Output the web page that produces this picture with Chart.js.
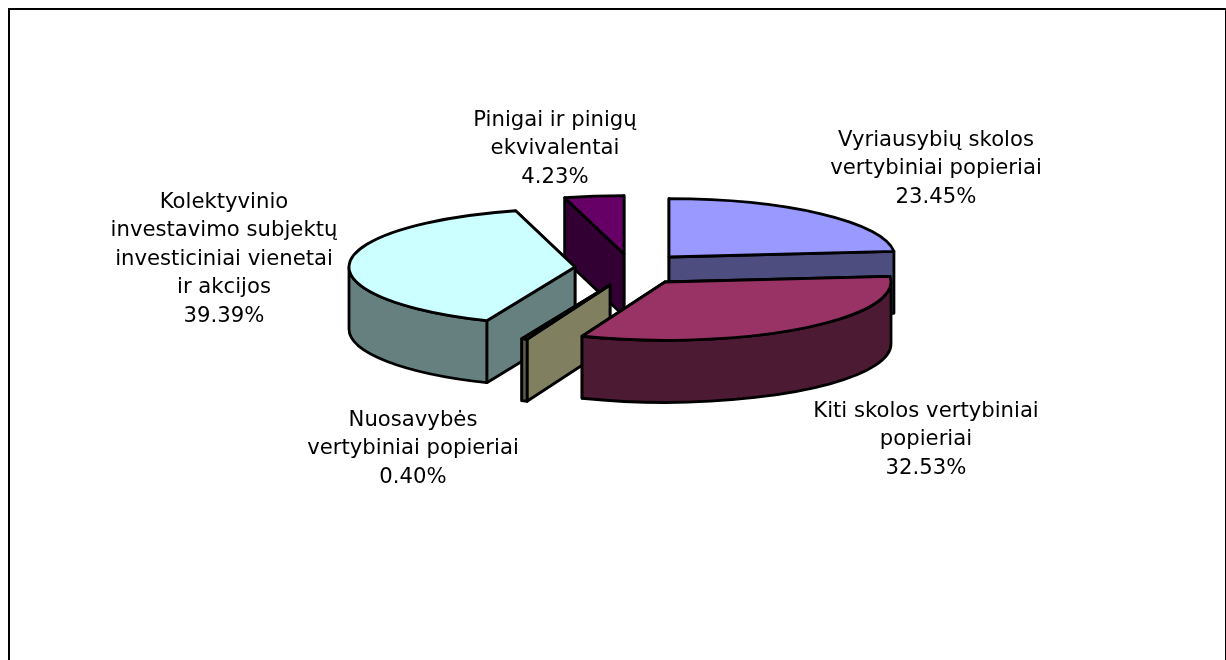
<!DOCTYPE html>
<html><head><meta charset="utf-8">
<script src="https://cdn.jsdelivr.net/npm/chart.js@4"></script>
<style>
html,body{margin:0;padding:0;background:#fff;overflow:hidden;width:1226px;height:660px}
#frame{position:absolute;left:8px;top:8px;width:1215px;height:720px;border:2px solid #000;box-sizing:content-box}
canvas{position:absolute;left:0;top:0}
</style></head><body>
<div id="frame"></div>
<canvas id="c" width="1226" height="660"></canvas>
<script>
const categories = [
  "Vyriausybių skolos vertybiniai popieriai",
  "Kiti skolos vertybiniai popieriai",
  "Nuosavybės vertybiniai popieriai",
  "Kolektyvinio investavimo subjektų investiciniai vienetai ir akcijos",
  "Pinigai ir pinigų ekvivalentai"
];
const values = [23.45, 32.53, 0.40, 39.39, 4.23];
const labelLines = [
  ["Vyriausybių skolos", "vertybiniai popieriai"],
  ["Kiti skolos vertybiniai", "popieriai"],
  ["Nuosavybės", "vertybiniai popieriai"],
  ["Kolektyvinio", "investavimo subjektų", "investiciniai vienetai", "ir akcijos"],
  ["Pinigai ir pinigų", "ekvivalentai"]
];
const topColors  = ["#9999ff", "#993366", "#808060", "#ccffff", "#660066"];
const wallColors = ["#4d4d80", "#4d1a33", "#808060", "#668080", "#330033"];
const rimColors  = ["#4d4d80", "#4d1a33", "#606048", "#668080", "#330033"];
// presentation settings
const tilt = 0.258, depth = 62, edge = 2.8;
const explode = [[56,-13],[52,12],[-3,15],[-38,-3],[11,-16]];
const drawOrder = [4,0,3,2,1];
const labelCenters = [[936,140],[926,411],[413,420],[224,202],[555,120]];
const lineStep = 28.6;

const pie3d = {
  id: 'pie3d',
  beforeDatasetsDraw(chart) {
    const ctx = chart.ctx, arcs = chart.getDatasetMeta(0).data;
    ctx.save();
    ctx.lineJoin = 'round';
    ctx.strokeStyle = '#000';
    ctx.lineWidth = edge;
    for (const i of drawOrder) {
      const a = arcs[i], R = a.outerRadius, ry = R * tilt;
      const cx = a.x + explode[i][0], cy = a.y + explode[i][1];
      const s = a.startAngle, e = a.endAngle;
      const pt = t => [cx + R * Math.cos(t), cy + ry * Math.sin(t)];
      // radial walls, rearmost first
      const walls = [s, e].sort((p, q) => pt(p)[1] - pt(q)[1]);
      for (const t of walls) {
        const p = pt(t);
        ctx.beginPath();
        ctx.moveTo(cx, cy); ctx.lineTo(p[0], p[1]);
        ctx.lineTo(p[0], p[1] + depth); ctx.lineTo(cx, cy + depth);
        ctx.closePath();
        ctx.fillStyle = wallColors[i];
        ctx.fill(); ctx.stroke();
      }
      // outer wall, front half only
      const a0 = Math.max(s, 0), a1 = Math.min(e, Math.PI);
      if (a1 > a0) {
        ctx.beginPath();
        ctx.ellipse(cx, cy, R, ry, 0, a0, a1);
        ctx.ellipse(cx, cy + depth, R, ry, 0, a1, a0, true);
        ctx.closePath();
        ctx.fillStyle = rimColors[i];
        ctx.fill(); ctx.stroke();
      }
      // top face: the library's own arc, squashed into perspective
      const ox = a.x, oy = a.y;
      ctx.save();
      ctx.translate(cx, cy);
      ctx.scale(1, tilt);
      a.x = 0; a.y = 0;
      a.draw(ctx);
      a.x = ox; a.y = oy;
      ctx.restore();
      ctx.beginPath();
      ctx.moveTo(cx, cy);
      ctx.ellipse(cx, cy, R, ry, 0, s, e);
      ctx.closePath();
      ctx.stroke();
    }
    ctx.restore();
    return false;
  },
  afterDraw(chart) {
    const ctx = chart.ctx;
    ctx.save();
    ctx.fillStyle = '#000';
    ctx.font = '21.2px "DejaVu Sans"';
    ctx.textAlign = 'center';
    ctx.textBaseline = 'middle';
    labelLines.forEach((lines, i) => {
      const all = lines.concat(values[i].toFixed(2) + '%');
      all.forEach((t, j) => ctx.fillText(t, labelCenters[i][0], labelCenters[i][1] + j * lineStep));
    });
    ctx.restore();
  }
};

new Chart(document.getElementById('c'), {
  type: 'pie',
  data: { labels: categories, datasets: [{ data: values, backgroundColor: topColors, borderWidth: 0, hoverOffset: 0 }] },
  options: {
    responsive: false,
    animation: false,
    layout: { padding: { top: 44, bottom: 164 } },
    plugins: { legend: { display: false }, tooltip: { enabled: false } }
  },
  plugins: [pie3d]
});
</script>
</body></html>
